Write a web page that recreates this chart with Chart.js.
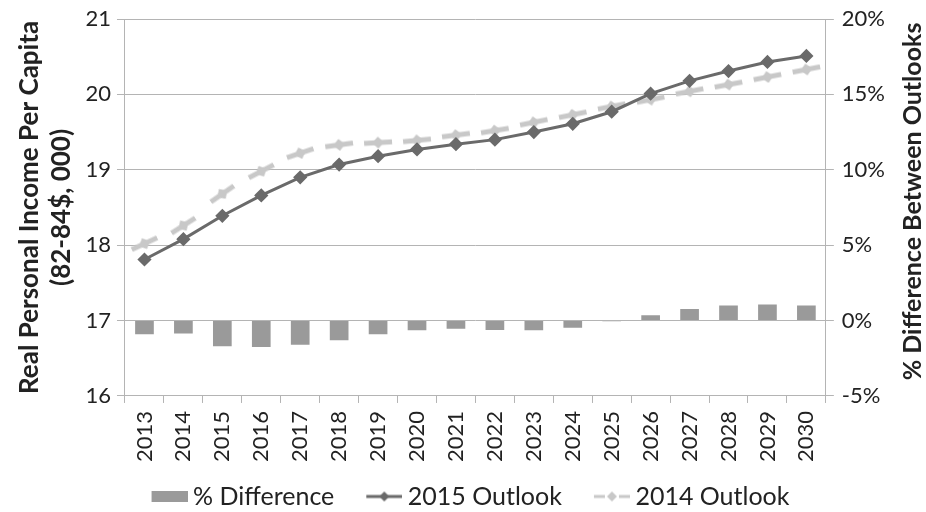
<!DOCTYPE html>
<html>
<head>
<meta charset="utf-8">
<script src="https://cdn.jsdelivr.net/npm/chart.js@4/dist/chart.umd.min.js"></script>
<style>
  html, body { margin: 0; padding: 0; background: #fff; }
  #wrap { width: 926px; height: 512px; }
</style>
</head>
<body>
<div id="wrap"><canvas id="chart" width="926" height="512"></canvas></div>
<script>
const years = ['2013', '2014', '2015', '2016', '2017', '2018', '2019', '2020', '2021',
  '2022', '2023', '2024', '2025', '2026', '2027', '2028', '2029', '2030'];
const outlook2015 = [17.81, 18.08, 18.39, 18.66, 18.90, 19.07, 19.18, 19.27, 19.34,
  19.40, 19.50, 19.61, 19.77, 20.01, 20.18, 20.31, 20.43, 20.51];
const outlook2014 = [18.02, 18.26, 18.68, 18.98, 19.22, 19.33, 19.36, 19.39, 19.46,
  19.52, 19.63, 19.73, 19.84, 19.93, 20.04, 20.13, 20.23, 20.33];
const pctDiff = [-0.9, -0.85, -1.7, -1.75, -1.6, -1.3, -0.9, -0.65, -0.55,
  -0.63, -0.65, -0.48, -0.05, 0.35, 0.77, 1.0, 1.07, 1.0];
const incomeTicks = [16, 17, 18, 19, 20, 21];
const pctTicks = [-5, 0, 5, 10, 15, 20];
const rightTitle = '% Difference Between Outlooks';

const FONT = 'Lato, "Open Sans", sans-serif';
const TEXT = '#222';
const GRID = '#b4b4b4';
const BAR = '#9a9a9a';
const DARK = '#6a6a6a';
const LIGHT = '#c8c8c8';

// little icons for the legend and the 2014 markers
function icon(w, h, draw) {
  const c = document.createElement('canvas');
  c.width = w; c.height = h;
  draw(c.getContext('2d'));
  return c;
}
function diamond(g, x, y, r, color) {
  g.fillStyle = color;
  g.beginPath();
  g.moveTo(x, y - r); g.lineTo(x + r, y); g.lineTo(x, y + r); g.lineTo(x - r, y);
  g.closePath(); g.fill();
}
// legend icons sit at the right end of a wider transparent canvas so the items get spaced out
const ICON_W = 69, ICON_X = ICON_W - 36;
const barIcon = icon(ICON_W, 11, g => { g.fillStyle = BAR; g.fillRect(ICON_X, 0, 36, 11); });
const darkIcon = icon(ICON_W, 12, g => {
  g.strokeStyle = DARK; g.lineWidth = 3;
  g.beginPath(); g.moveTo(ICON_X, 6); g.lineTo(ICON_W, 6); g.stroke();
  diamond(g, ICON_X + 18, 6, 5, DARK);
});
const lightIcon = icon(ICON_W, 12, g => {
  g.strokeStyle = LIGHT; g.lineWidth = 3;
  g.beginPath(); g.moveTo(ICON_X, 6); g.lineTo(ICON_X + 11, 6); g.moveTo(ICON_X + 25, 6); g.lineTo(ICON_W, 6); g.stroke();
  diamond(g, ICON_X + 18, 6, 5, LIGHT);
});
const dashMark = icon(28, 12, g => {
  g.strokeStyle = LIGHT; g.lineWidth = 5;
  g.beginPath(); g.moveTo(0, 6); g.lineTo(28, 6); g.stroke();
  diamond(g, 14, 6, 6, LIGHT);
});

// tilt each 2014 dash along the local slope of the series
function dashAngle(ctx) {
  const i = ctx.dataIndex;
  const xs = ctx.chart.scales.x, ys = ctx.chart.scales.y;
  if (!xs || !ys) return 0;
  const a = Math.max(0, i - 1), b = Math.min(outlook2014.length - 1, i + 1);
  const dx = xs.getPixelForValue(b) - xs.getPixelForValue(a);
  const dy = ys.getPixelForValue(outlook2014[b]) - ys.getPixelForValue(outlook2014[a]);
  return Math.atan2(dy, dx) * 180 / Math.PI;
}

// right axis title reads bottom-to-top in the original, Chart.js turns it the other way
const rightTitlePlugin = {
  id: 'rightTitle',
  afterLayout(chart) {
    // nudge the legend a little lower / left, like the original
    const lg = chart.legend;
    lg.top += 7; lg.bottom += 7;
    lg.left -= 12; lg.right -= 12;
  },
  afterDraw(chart) {
    const s = chart.scales.y1;
    const g = chart.ctx;
    g.save();
    g.translate(s.right - 13, (s.top + s.bottom) / 2 - 6);
    g.rotate(-Math.PI / 2);
    g.font = 'bold 25px ' + FONT;
    g.fillStyle = TEXT;
    g.textAlign = 'center';
    g.textBaseline = 'middle';
    g.fillText(rightTitle, 0, 0);
    g.restore();
  }
};

const ctx = document.getElementById('chart').getContext('2d');
new Chart(ctx, {
  type: 'bar',
  data: {
    labels: years,
    datasets: [
      {
        type: 'line',
        label: '2015 Outlook',
        data: outlook2015,
        yAxisID: 'y',
        borderColor: DARK,
        borderWidth: 3,
        pointStyle: 'rectRot',
        pointRadius: 5,
        pointBackgroundColor: DARK,
        pointBorderColor: DARK,
        tension: 0,
        order: 1
      },
      {
        type: 'line',
        label: '2014 Outlook',
        data: outlook2014,
        yAxisID: 'y',
        showLine: false,
        pointStyle: dashMark,
        pointRotation: dashAngle,
        pointRadius: 8,
        order: 2
      },
      {
        label: '% Difference',
        data: pctDiff,
        yAxisID: 'y1',
        backgroundColor: BAR,
        categoryPercentage: 1,
        barPercentage: 0.48,
        order: 3
      }
    ]
  },
  options: {
    responsive: false,
    animation: false,
    layout: { padding: { top: 1, right: 0, left: 13, bottom: 0 } },
    plugins: {
      tooltip: { enabled: false },
      legend: {
        position: 'bottom',
        labels: {
          usePointStyle: true,
          pointStyleWidth: 55,
          padding: 6,
          color: TEXT,
          font: { family: FONT, size: 25 },
          generateLabels: () => [
            { text: '% Difference', pointStyle: barIcon, fillStyle: BAR, strokeStyle: BAR, lineWidth: 0, fontColor: TEXT },
            { text: '2015 Outlook', pointStyle: darkIcon, fillStyle: DARK, strokeStyle: DARK, lineWidth: 0, fontColor: TEXT },
            { text: '2014 Outlook', pointStyle: lightIcon, fillStyle: LIGHT, strokeStyle: LIGHT, lineWidth: 0, fontColor: TEXT }
          ]
        }
      }
    },
    scales: {
      x: {
        offset: true,
        grid: { display: true, offset: true, drawOnChartArea: false, color: GRID, tickLength: 7 },
        border: { color: GRID },
        ticks: { color: TEXT, font: { family: FONT, size: 22 }, maxRotation: 90, minRotation: 90, padding: 8, autoSkip: false },
        afterFit: s => { s.height += 1; }
      },
      y: {
        position: 'left',
        min: 16, max: 21,
        afterBuildTicks: s => { s.ticks = incomeTicks.map(v => ({ value: v })); },
        grid: { color: GRID, tickLength: 8 },
        border: { color: GRID },
        ticks: { color: TEXT, font: { family: FONT, size: 22, lineHeight: 1.0 }, padding: 6 },
        title: {
          display: true,
          text: ['Real Personal Income Per Capita', '(82-84$, 000)'],
          color: TEXT,
          font: { family: FONT, size: 26, weight: 'bold', lineHeight: 1.24 },
          padding: { top: 0, bottom: 2 }
        }
      },
      y1: {
        position: 'right',
        min: -5, max: 20,
        afterBuildTicks: s => { s.ticks = pctTicks.map(v => ({ value: v })); },
        grid: { drawOnChartArea: false, color: GRID, tickLength: 8 },
        border: { color: GRID },
        ticks: { color: TEXT, font: { family: FONT, size: 22, lineHeight: 1.0 }, padding: 8, callback: v => v + '%' },
        title: {
          // reserves the room; the text itself is drawn by rightTitlePlugin
          display: true,
          text: rightTitle,
          color: 'rgba(0,0,0,0)',
          font: { family: FONT, size: 25, weight: 'bold', lineHeight: 1.0 },
          padding: { top: 8, bottom: 0 }
        }
      }
    }
  },
  plugins: [rightTitlePlugin]
});
</script>
</body>
</html>
